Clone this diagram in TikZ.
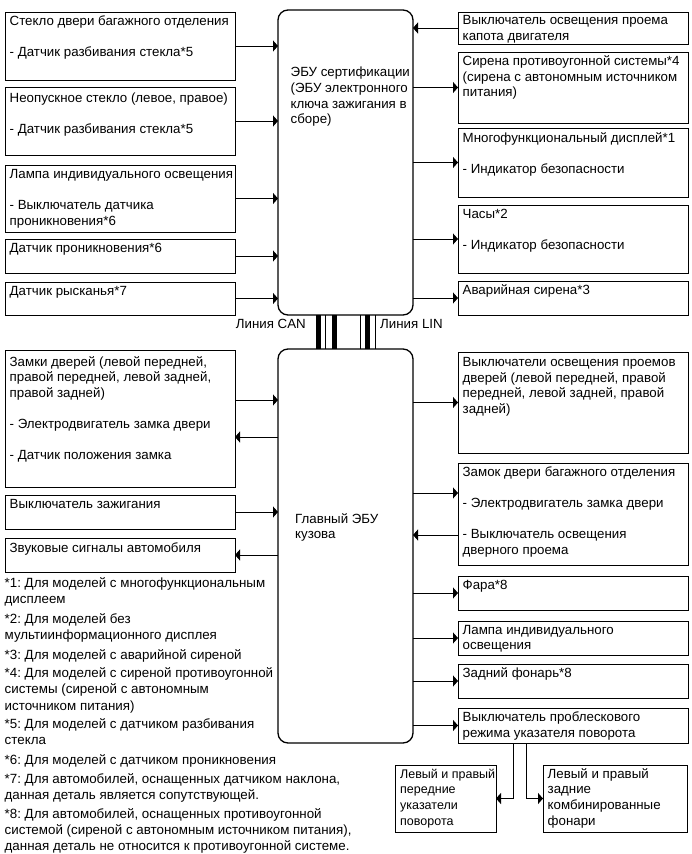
\documentclass[tikz,border=0pt]{standalone}
\usepackage{fontspec}
\setmainfont{Liberation Sans}
\usetikzlibrary{arrows.meta,fit}
\frenchspacing
\newcommand\fs{\fontsize{13.3}{15.6}\selectfont}
\newcommand\fsn{\fontsize{13.35}{16.4}\selectfont}
\newcommand\fss{\fontsize{12.5}{15.6}\selectfont}
\newcommand\st{\rule{0pt}{11pt}}
\newcommand\gap{\\[15.6pt]}
\newcommand\mkbox[5]{\coordinate (#1-nw) at (#2,#3); \coordinate (#1-se) at (#4,#5); \node[box, fit=(#1-nw)(#1-se)] (#1) {};}
\newcommand\mktxt[3][2]{\node[txt] (#2-t) at ([shift={(4.5,#1)}]#2.north west) {\st #3};}
\tikzset{
  box/.style={draw, line width=1pt, inner sep=0pt, outer sep=0pt},
  ecu/.style={draw, line width=1.3pt, rounded corners=10pt, inner sep=0pt, outer sep=0pt},
  txt/.style={anchor=north west, inner sep=0pt, align=left, font=\fs},
  fnote/.style={anchor=north west, inner sep=0pt, align=left, font=\fsn},
  arr/.style={line width=1pt, -{Triangle[length=5pt,width=11pt]}},
  busthick/.style={line width=5pt},
  busthin/.style={line width=1pt},
}
\begin{document}
\begin{tikzpicture}[x=1pt,y=-1pt]
\useasboundingbox (0,0) rectangle (692,854);
% ECUs
\coordinate (cert-nw) at (278,10); \coordinate (cert-se) at (413,315);
\node[ecu, fit=(cert-nw)(cert-se)] (cert) {};
\coordinate (main-nw) at (278,349); \coordinate (main-se) at (413,743);
\node[ecu, fit=(main-nw)(main-se)] (main) {};
\node[txt] (cert-t) at (290.5,65.6) {\st ЭБУ сертификации\\(ЭБУ электронного\\ключа зажигания в\\сборе)};
\node[txt] (main-t) at (295,512) {\st Главный ЭБУ\\кузова};
% bus lines
\foreach \xx/\sty in {318/busthick,325.5/busthin,334/busthick,360/busthin,367.5/busthick,375.5/busthin}
  \draw[\sty] ({\xx},0 |- cert.south) -- ({\xx},0 |- main.north);
\node[anchor=east, inner sep=0pt, font=\fs] (can) at (306,323.5) {Линия CAN};
\node[anchor=west, inner sep=0pt, font=\fs] (lin) at (380,323.5) {Линия LIN};
% left top boxes
\mkbox{b1}{5}{12}{235}{80}
\mkbox{b2}{5}{87}{235}{155}
\mkbox{b3}{5}{165}{235}{232}
\mkbox{b4}{5}{239}{235}{273}
\mkbox{b5}{5}{282}{235}{315}
\mktxt{b1}{Стекло двери багажного отделения\gap - Датчик разбивания стекла*5}
\mktxt[4.5]{b2}{Неопускное стекло (левое, правое)\gap - Датчик разбивания стекла*5}
\mktxt{b3}{Лампа индивидуального освещения\gap - Выключатель датчика\\проникновения*6}
\mktxt{b4}{Датчик проникновения*6}
\mktxt{b5}{Датчик рысканья*7}
\foreach \b in {b1,b2,b3,b4,b5}
  \draw[arr] (\b.east) -- (\b.east -| cert.west);
% right top boxes
\mkbox{r1}{458}{12}{688}{44}
\mkbox{r2}{458}{52}{688}{123}
\mkbox{r3}{458}{128}{688}{197}
\mkbox{r4}{458}{205}{688}{273}
\mkbox{r5}{458}{281}{688}{315}
\mktxt[1.5]{r1}{Выключатель освещения проема\\капота двигателя}
\mktxt[2.5]{r2}{Сирена противоугонной системы*4\\(сирена с автономным источником\\питания)}
\mktxt[3]{r3}{Многофункциональный дисплей*1\gap - Индикатор безопасности}
\mktxt{r4}{Часы*2\gap - Индикатор безопасности}
\mktxt{r5}{Аварийная сирена*3}
\draw[arr] (r1.west) -- (r1.west -| cert.east);
\foreach \b in {r2,r3,r4,r5}
  \draw[arr] (\b.west -| cert.east) -- (\b.west);
% left bottom boxes
\mkbox{l6}{5}{350}{235}{487}
\mkbox{l7}{5}{495}{235}{529}
\mkbox{l8}{5}{538}{235}{572}
\mktxt[5]{l6}{Замки дверей (левой передней,\\правой передней, левой задней,\\правой задней)\gap - Электродвигатель замка двери\gap - Датчик положения замка}
\mktxt[2.5]{l7}{Выключатель зажигания}
\mktxt[3]{l8}{Звуковые сигналы автомобиля}
\coordinate (l6a) at ([yshift=18.5pt]l6.east);
\coordinate (l6b) at ([yshift=-18.5pt]l6.east);
\draw[arr] (l6a) -- (l6a -| main.west);
\draw[arr] (l6b -| main.west) -- (l6b);
\draw[arr] (l7.east) -- (l7.east -| main.west);
\draw[arr] (l8.east -| main.west) -- (l8.east);
% right bottom boxes
\mkbox{r6}{458}{352}{688}{453}
\mkbox{r7}{458}{463}{688}{565}
\mkbox{r8}{458}{576}{688}{610}
\mkbox{r9}{458}{621}{688}{655}
\mkbox{r10}{458}{664}{688}{698}
\mkbox{r11}{458}{708}{688}{743}
\mktxt[3.5]{r6}{Выключатели освещения проемов\\дверей (левой передней, правой\\передней, левой задней, правой\\задней)}
\mktxt{r7}{Замок двери багажного отделения\gap - Электродвигатель замка двери\gap - Выключатель освещения\\дверного проема}
\mktxt{r8}{Фара*8}
\mktxt{r9}{Лампа индивидуального\\освещения}
\mktxt{r10}{Задний фонарь*8}
\mktxt[2.5]{r11}{Выключатель проблескового\\режима указателя поворота}
\coordinate (r7a) at ([yshift=21pt]r7.west);
\coordinate (r7b) at ([yshift=-21pt]r7.west);
\draw[arr] (r7a -| main.east) -- (r7a);
\draw[arr] (r7b) -- (r7b -| main.east);
\foreach \b in {r6,r8,r9,r10,r11}
  \draw[arr] (\b.west -| main.east) -- (\b.west);
% turn signal sub boxes
\mkbox{s1}{395}{765}{496}{832}
\mkbox{s2}{543}{765}{687}{832}
\node[txt, font=\fss] (s1-t) at ([shift={(5,2)}]s1.north west) {\st Левый и правый\\передние\\указатели\\поворота};
\mktxt[2]{s2}{Левый и правый\\задние\\комбинированные\\фонари}
\coordinate (r11a) at ([xshift=55pt]r11.south west);
\coordinate (r11b) at ([xshift=68pt]r11.south west);
\draw[arr] (r11a) |- (s1.east);
\draw[arr] (r11b) |- (s2.west);
% footnotes
\node[fnote] (fn1) at (4.5,575.8) {\st *1: Для моделей с многофункциональным\\дисплеем};
\node[fnote] (fn2) at (4.5,611.8) {\st *2: Для моделей без\\мультиинформационного дисплея};
\node[fnote] (fn3) at (4.5,647.8) {\st *3: Для моделей с аварийной сиреной};
\node[fnote] (fn4) at (4.5,666.3) {\st *4: Для моделей с сиреной противоугонной\\системы (сиреной с автономным\\источником питания)};
\node[fnote] (fn5) at (4.5,717.3) {\st *5: Для моделей с датчиком разбивания\\стекла};
\node[fnote] (fn6) at (4.5,752.8) {\st *6: Для моделей с датчиком проникновения};
\node[fnote] (fn7) at (4.5,772.3) {\st *7: Для автомобилей, оснащенных датчиком наклона,\\данная деталь является сопутствующей.};
\node[fnote] (fn8) at (4.5,806.8) {\st *8: Для автомобилей, оснащенных противоугонной\\системой (сиреной с автономным источником питания),\\данная деталь не относится к противоугонной системе.};
\end{tikzpicture}
\end{document}
